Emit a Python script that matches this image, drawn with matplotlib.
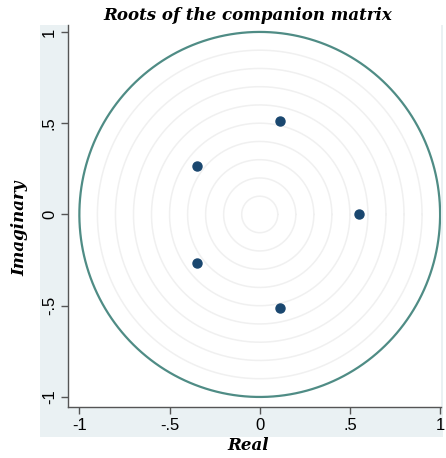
import numpy as np
import matplotlib
matplotlib.use("Agg")
import matplotlib.pyplot as plt
from matplotlib.patches import Rectangle

# eigenvalues of the companion matrix
root_re = [0.11, -0.35, 0.55, -0.35, 0.11]
root_im = [0.51, 0.265, 0.0, -0.265, -0.51]

ticks = [-1, -0.5, 0, 0.5, 1]
tick_labels = ["-1", "-.5", "0", ".5", "1"]
grid_radii = [0.1, 0.2, 0.3, 0.4, 0.5, 0.6, 0.7, 0.8, 0.9]

W, H = 446, 458
fig = plt.figure(figsize=(W / 100, H / 100), dpi=100)
fig.patch.set_facecolor("white")

# shaded graph region behind the plot area
fig.patches.append(Rectangle((40 / W, 1 - 437 / H), (443 - 40) / W, (437 - 25) / H,
                             transform=fig.transFigure, facecolor="#eaf1f3",
                             edgecolor="none", zorder=-1))

ax = fig.add_axes([68 / W, 1 - 407 / H, (441 - 68) / W, (407 - 25) / H])
ax.set_zorder(1)
ax.set_facecolor("white")
ax.set_xlim(-1.063, 1.005)
ax.set_ylim(-1.055, 1.038)

t = np.linspace(0, 2 * np.pi, 400)
for r in grid_radii:
    ax.plot(r * np.cos(t), r * np.sin(t), color="#f0f0f0", lw=1.1, zorder=1)
ax.plot(np.cos(t), np.sin(t), color="#4f8c85", lw=1.6, zorder=2)

ax.plot(root_re, root_im, "o", color="#1a476f", markersize=6.5, zorder=3)

for s in ["top", "right"]:
    ax.spines[s].set_visible(False)
for s in ["left", "bottom"]:
    ax.spines[s].set_color("#555555")
    ax.spines[s].set_linewidth(1.0)

ax.set_xticks(ticks)
ax.set_xticklabels(tick_labels)
ax.set_yticks(ticks)
ax.set_yticklabels(tick_labels, rotation=90, va="center")
ax.tick_params(direction="out", length=5, width=1, color="#555555",
               labelsize=12, pad=3)
for lab in ax.get_xticklabels() + ax.get_yticklabels():
    lab.set_family("Liberation Sans")

serif = dict(family="DejaVu Serif", style="italic", weight="bold", fontsize=12)
fig.text(248 / W, 1 - 15 / H, "Roots of the companion matrix", ha="center", va="center", **serif)
fig.text(248 / W, 1 - 445 / H, "Real", ha="center", va="center", **serif)
fig.text(20 / W, 1 - 228 / H, "Imaginary", ha="center", va="center", rotation=90, **serif)

fig.savefig("out.png", dpi=100)
